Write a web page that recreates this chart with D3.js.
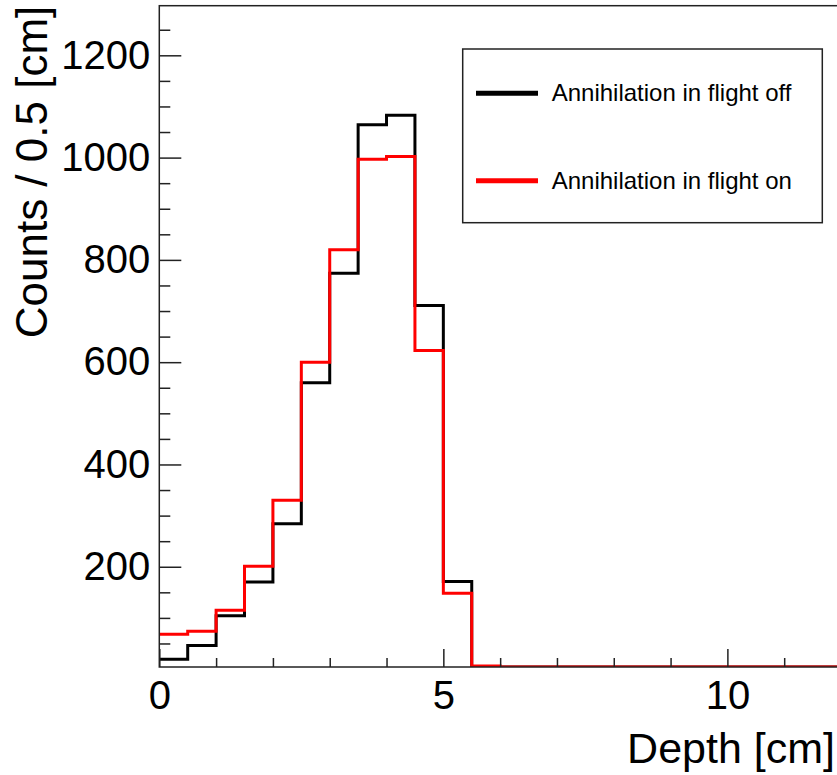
<!DOCTYPE html>
<html>
<head>
<meta charset="utf-8">
<script src="https://cdn.jsdelivr.net/npm/d3@7"></script>
<style>
  html, body { margin: 0; padding: 0; background: #fff; }
  svg { display: block; }
  text { font-family: "Liberation Sans", Arial, Helvetica, sans-serif; fill: #000; }
</style>
</head>
<body>
<svg id="chart" width="837" height="775"></svg>
<script>
// ---- data ----
const binEdges = [0,0.5,1,1.5,2,2.5,3,3.5,4,4.5,5,5.5,6,6.5,7,7.5,8,8.5,9,9.5,10,10.5,11,11.5,12];
const countsOff = [19,46,104,170,284,560,774,1064,1083,711,171,2,0,0,0,0,0,0,0,0,0,0,0,0];
const countsOn  = [68,74,115,201,330,600,820,997,1002,623,148,6,0,0,0,0,0,0,0,0,0,0,0,0];
const seriesNames = ["Annihilation in flight off", "Annihilation in flight on"];
const seriesColors = ["#000000", "#ff0000"];
const yMajorTicks = [200,400,600,800,1000,1200];
const yMinorTicks = [50,100,150,250,300,350,450,500,550,650,700,750,850,900,950,1050,1100,1150,1250];
const xMajorTicks = [0,5,10];
const xMinorTicks = [1,2,3,4,6,7,8,9,11];
const xTitle = "Depth [cm]";
const yTitle = "Counts / 0.5 [cm]";

(function(){
// ---- layout ----
const svg = d3.select("#chart");
const pL = 159.3, pR = 841, pT = 5.7, pB = 667;
const x = d3.scaleLinear().domain([0,12]).range([pL, pR]);
const y = d3.scaleLinear().domain([4,1297]).range([pB, pT]);

svg.append("rect").attr("width",837).attr("height",775).attr("fill","#fff");

svg.append("clipPath").attr("id","plotclip").append("rect")
  .attr("x",pL).attr("y",pT).attr("width",pR-pL).attr("height",pB-pT);

// histograms
const line = d3.line().curve(d3.curveStepAfter).x(d=>x(d[0])).y(d=>y(d[1]));
function histPts(vals){
  const ymin = y.domain()[0];
  const pts = vals.map((v,i)=>[binEdges[i], Math.max(v, ymin)]);
  pts.push([binEdges[binEdges.length-1], Math.max(vals[vals.length-1], ymin)]);
  return pts;
}
const g = svg.append("g").attr("clip-path","url(#plotclip)");
[countsOff, countsOn].forEach((vals, k)=>{
  g.append("path").attr("d", line(histPts(vals)))
    .attr("fill","none").attr("stroke", seriesColors[k]).attr("stroke-width",3)
    .attr("stroke-linejoin","miter");
});

// frame
svg.append("rect").attr("x",pL).attr("y",pT).attr("width",pR-pL).attr("height",pB-pT)
  .attr("fill","none").attr("stroke","#222").attr("stroke-width",1.5);

// y axis
const yAxisMajor = d3.axisLeft(y).tickValues(yMajorTicks).tickSize(-22).tickPadding(9).tickFormat(d3.format("d"));
const yAx = svg.append("g").attr("transform",`translate(${pL},0)`).call(yAxisMajor);
yAx.select(".domain").remove();
yAx.selectAll("line").attr("stroke","#222").attr("stroke-width",1.5);
yAx.selectAll("text").attr("font-size",40).attr("font-family","Liberation Sans, Arial, sans-serif");
const yAxisMinor = d3.axisLeft(y).tickValues(yMinorTicks).tickSize(-11).tickFormat("");
const yAxm = svg.append("g").attr("transform",`translate(${pL},0)`).call(yAxisMinor);
yAxm.select(".domain").remove();
yAxm.selectAll("line").attr("stroke","#222").attr("stroke-width",1.5);

// x axis
const xAxisMajor = d3.axisBottom(x).tickValues(xMajorTicks).tickSize(-18).tickPadding(14).tickFormat(d3.format("d"));
const xAx = svg.append("g").attr("transform",`translate(0,${pB})`).call(xAxisMajor);
xAx.select(".domain").remove();
xAx.selectAll("line").attr("stroke","#222").attr("stroke-width",1.5);
xAx.selectAll("text").attr("font-size",40).attr("font-family","Liberation Sans, Arial, sans-serif");
const xAxisMinor = d3.axisBottom(x).tickValues(xMinorTicks).tickSize(-9).tickFormat("");
const xAxm = svg.append("g").attr("transform",`translate(0,${pB})`).call(xAxisMinor);
xAxm.select(".domain").remove();
xAxm.selectAll("line").attr("stroke","#222").attr("stroke-width",1.5);

// titles
svg.append("text").attr("x",835).attr("y",763).attr("text-anchor","end")
  .attr("font-size",43).text(xTitle);
svg.append("text").attr("transform",`translate(47,${pT}) rotate(-90)`).attr("text-anchor","end")
  .attr("font-size",44).text(yTitle);

// legend
const lg = svg.append("g");
lg.append("rect").attr("x",462.7).attr("y",49).attr("width",359.6).attr("height",173.7)
  .attr("fill","#fff").attr("stroke","#222").attr("stroke-width",1.5);
const legY = [93.3, 180.7];
seriesNames.forEach((name,k)=>{
  lg.append("line").attr("x1",476).attr("x2",538).attr("y1",legY[k]).attr("y2",legY[k])
    .attr("stroke",seriesColors[k]).attr("stroke-width",5);
  lg.append("text").attr("x",551.7).attr("y",legY[k]+8).attr("font-size",24).text(name);
});
})();
</script>
</body>
</html>
